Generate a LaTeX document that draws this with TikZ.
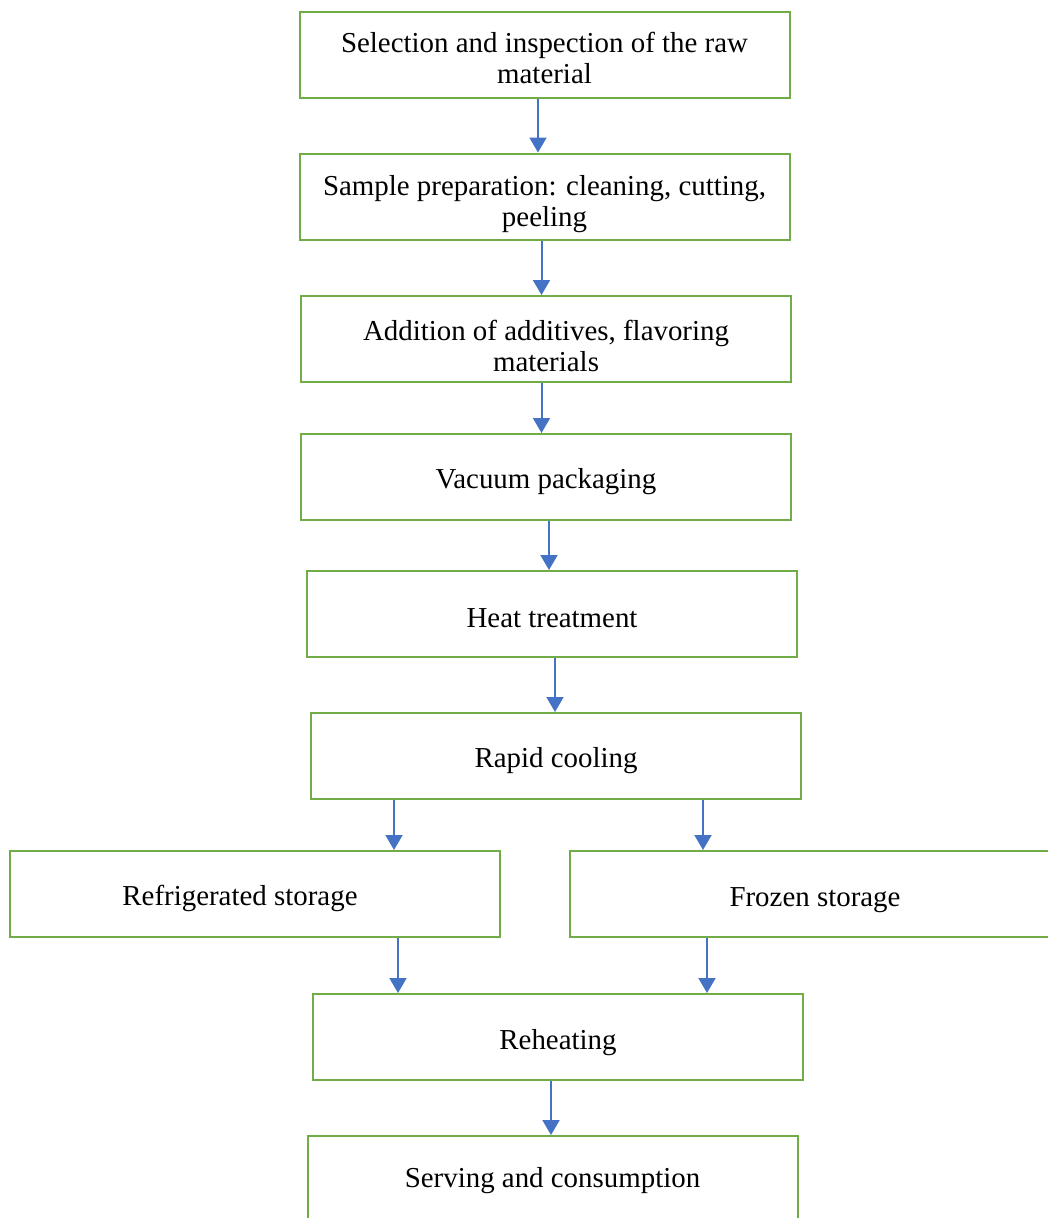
\documentclass[tikz,border=0pt]{standalone}
\usepackage{fontspec}
\setmainfont{Liberation Serif}
\usetikzlibrary{arrows.meta}
\definecolor{boxgreen}{RGB}{112,173,71}
\definecolor{arrowblue}{RGB}{68,114,196}
\begin{document}
\begin{tikzpicture}[x=1pt,y=-1pt,
  stepbox/.style={draw=boxgreen, line width=2pt, fill=white,
    minimum width=490pt, minimum height=86pt, inner sep=0pt},
  steptext/.style={align=center, inner sep=0pt, text=black,
    font=\fontsize{28.9}{31}\selectfont},
  flow/.style={draw=arrowblue, line width=2pt,
    -{Triangle[width=17pt,length=15pt]}}]
\useasboundingbox (0,0) rectangle (1048,1218);
\clip (0,0) rectangle (1048,1218);
\node[stepbox, label={[steptext, yshift=-3pt]center:{Selection and inspection of the raw\\material}}] (sel) at (544.5,55) {};
\node[stepbox, label={[steptext, yshift=-8pt]center:{Sample preparation: cleaning, cutting,\\peeling}}] (samp) at (544.5,196.5) {};
\node[stepbox, label={[steptext, yshift=-7pt]center:{Addition of additives, flavoring\\materials}}] (add) at (546,339) {};
\node[stepbox, label={[steptext, yshift=-5pt]center:{Vacuum packaging}}] (vac) at (546,477) {};
\node[stepbox, label={[steptext, yshift=-4pt]center:{Heat treatment}}] (heat) at (552,614) {};
\node[stepbox, label={[steptext, yshift=-5pt]center:{Rapid cooling}}] (rapid) at (556,756) {};
\node[stepbox, label={[steptext, yshift=-4pt, xshift=-15pt]center:{Refrigerated storage}}] (refr) at (255,894) {};
\node[stepbox, label={[steptext, yshift=-6pt]center:{Frozen storage}}] (froz) at (815,894) {};
\node[stepbox, label={[steptext, yshift=-6pt]center:{Reheating}}] (reh) at (558,1037) {};
\node[stepbox, label={[steptext, yshift=-2pt]center:{Serving and consumption}}] (serv) at (552.5,1179) {};
\draw[flow] ([xshift=-6.5pt]sel.south)  -- ([xshift=-6.5pt]sel.south |- samp.north);
\draw[flow] ([xshift=-3pt]samp.south)   -- ([xshift=-3pt]samp.south |- add.north);
\draw[flow] ([xshift=-4.5pt]add.south)  -- ([xshift=-4.5pt]add.south |- vac.north);
\draw[flow] ([xshift=3pt]vac.south)     -- ([xshift=3pt]vac.south |- heat.north);
\draw[flow] ([xshift=3pt]heat.south)    -- ([xshift=3pt]heat.south |- rapid.north);
\draw[flow] ([xshift=-162pt]rapid.south) -- ([xshift=-162pt]rapid.south |- refr.north);
\draw[flow] ([xshift=147pt]rapid.south) -- ([xshift=147pt]rapid.south |- froz.north);
\draw[flow] ([xshift=143pt]refr.south)  -- ([xshift=143pt]refr.south |- reh.north);
\draw[flow] ([xshift=-108pt]froz.south) -- ([xshift=-108pt]froz.south |- reh.north);
\draw[flow] ([xshift=-7pt]reh.south)    -- ([xshift=-7pt]reh.south |- serv.north);
\end{tikzpicture}
\end{document}
